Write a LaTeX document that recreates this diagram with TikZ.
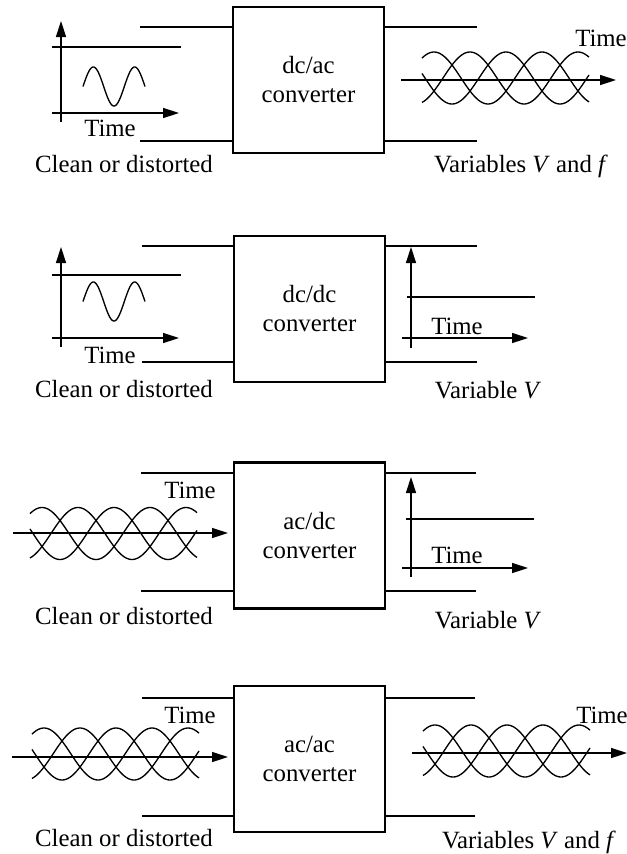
\documentclass[tikz,border=0pt]{standalone}
\usepackage{fontspec}
\setmainfont{Liberation Serif}
\usetikzlibrary{arrows.meta}
\begin{document}
\begin{tikzpicture}[x=0.75pt,y=-0.75pt,
  font=\fontsize{18.6}{21.75}\selectfont,
  conv/.style={draw, line width=1.6pt, minimum width=113.25pt, minimum height=109.5pt, inner sep=0pt, align=center},
  port/.style={line width=1.6pt},
  axis/.style={line width=1.1pt, -{Triangle[length=12pt,width=7.5pt]}},
  level/.style={line width=1pt},
  wave/.style={line width=1pt},
  lbl/.style={anchor=base, inner sep=0pt},
  threephase/.pic={
    \foreach \k in {0,1,2}{
      \draw[wave] plot[domain=0:167,samples=90,smooth] (\x,{-26*cos((\x-12-36*\k)*3.33333)});
    }
  }]
\useasboundingbox (0,0) rectangle (627,854);

% ---------- Row 1: dc/ac ----------
\node[conv] (b1) at (308.5,80) {dc/ac\\converter};
\coordinate (i1a) at (140,27);  \coordinate (i1b) at (140,141);
\coordinate (o1a) at (477,27);  \coordinate (o1b) at (477,141);
\draw[port] (i1a) -- (i1a -| b1.west);
\draw[port] (i1b) -- (i1b -| b1.west);
\draw[port] (o1a -| b1.east) -- (o1a);
\draw[port] (o1b -| b1.east) -- (o1b);
% left graph
\coordinate (v1s) at (61,122); \coordinate (v1e) at (61,21);
\coordinate (h1s) at (52,113); \coordinate (h1e) at (179,113);
\coordinate (l1s) at (52,47);  \coordinate (l1e) at (181,47);
\draw[axis] (v1s) -- (v1e);
\draw[axis] (h1s) -- (h1e);
\draw[level] (l1s) -- (l1e);
\draw[wave] plot[domain=83:145,samples=80,smooth] (\x,{86.5-19.5*sin((\x-83)*8.7097)});
\node[lbl] (t1l) at (110,136.5) {Time};
\node[lbl] (c1) at (124,172) {Clean or distorted};
% right graph
\coordinate (a1s) at (401,80); \coordinate (a1e) at (616,80);
\draw[axis] (a1s) -- (a1e);
\pic at (422,78) {threephase};
\node[lbl] (t1r) at (601,46.5) {Time};
\node[lbl] (r1) at (521,172) {Variables \textit{V} and \textit{f}};

% ---------- Row 2: dc/dc ----------
\node[conv] (b2) at (309.5,309) {dc/dc\\converter};
\coordinate (i2a) at (142,246);  \coordinate (i2b) at (142,362);
\coordinate (o2a) at (477,246);  \coordinate (o2b) at (477,362);
\draw[port] (i2a) -- (i2a -| b2.west);
\draw[port] (i2b) -- (i2b -| b2.west);
\draw[port] (o2a -| b2.east) -- (o2a);
\draw[port] (o2b -| b2.east) -- (o2b);
% left graph
\coordinate (v2s) at (61,347); \coordinate (v2e) at (61,247);
\coordinate (h2s) at (52,338); \coordinate (h2e) at (179,338);
\coordinate (l2s) at (52,275); \coordinate (l2e) at (181,275);
\draw[axis] (v2s) -- (v2e);
\draw[axis] (h2s) -- (h2e);
\draw[level] (l2s) -- (l2e);
\draw[wave] plot[domain=83:145,samples=80,smooth] (\x,{301.5-19.5*sin((\x-83)*8.7097)});
\node[lbl] (t2l) at (110,363.5) {Time};
\node[lbl] (c2) at (124,397) {Clean or distorted};
% right graph
\coordinate (v2rs) at (411,348); \coordinate (v2re) at (411,247);
\coordinate (h2rs) at (402,338); \coordinate (h2re) at (528,338);
\coordinate (l2rs) at (407,297); \coordinate (l2re) at (535,297);
\draw[axis] (v2rs) -- (v2re);
\draw[axis] (h2rs) -- (h2re);
\draw[level] (l2rs) -- (l2re);
\node[lbl] (t2r) at (457,334.5) {Time};
\node[lbl] (r2) at (488,398.5) {Variable \textit{V}};

% ---------- Row 3: ac/dc ----------
\node[conv] (b3) at (309.5,535.5) {ac/dc\\converter};
\coordinate (i3a) at (141,473);  \coordinate (i3b) at (141,591);
\coordinate (o3a) at (476,473);  \coordinate (o3b) at (476,591);
\draw[port] (i3a) -- (i3a -| b3.west);
\draw[port] (i3b) -- (i3b -| b3.west);
\draw[port] (o3a -| b3.east) -- (o3a);
\draw[port] (o3b -| b3.east) -- (o3b);
% left graph
\coordinate (a3s) at (13,533); \coordinate (a3e) at (228,533);
\draw[axis] (a3s) -- (a3e);
\pic at (30,533.5) {threephase};
\node[lbl] (t3l) at (190,498.5) {Time};
\node[lbl] (c3) at (124,624) {Clean or distorted};
% right graph
\coordinate (v3rs) at (411,577); \coordinate (v3re) at (411,477);
\coordinate (h3rs) at (402,568); \coordinate (h3re) at (528,568);
\coordinate (l3rs) at (406,519); \coordinate (l3re) at (534,519);
\draw[axis] (v3rs) -- (v3re);
\draw[axis] (h3rs) -- (h3re);
\draw[level] (l3rs) -- (l3re);
\node[lbl] (t3r) at (457,563.5) {Time};
\node[lbl] (r3) at (488,628.5) {Variable \textit{V}};

% ---------- Row 4: ac/ac ----------
\node[conv] (b4) at (309.5,759) {ac/ac\\converter};
\coordinate (i4a) at (142,698);  \coordinate (i4b) at (142,816);
\coordinate (o4a) at (475,698);  \coordinate (o4b) at (475,816);
\draw[port] (i4a) -- (i4a -| b4.west);
\draw[port] (i4b) -- (i4b -| b4.west);
\draw[port] (o4a -| b4.east) -- (o4a);
\draw[port] (o4b -| b4.east) -- (o4b);
% left graph
\coordinate (a4s) at (12,757); \coordinate (a4e) at (228,757);
\draw[axis] (a4s) -- (a4e);
\pic at (32,754) {threephase};
\node[lbl] (t4l) at (190,723.5) {Time};
\node[lbl] (c4) at (124,846.5) {Clean or distorted};
% right graph
\coordinate (a4rs) at (412,753); \coordinate (a4re) at (627,753);
\draw[axis] (a4rs) -- (a4re);
\pic at (423,751) {threephase};
\node[lbl] (t4r) at (602,723.5) {Time};
\node[lbl] (r4) at (529,848.5) {Variables \textit{V} and \textit{f}};
\end{tikzpicture}
\end{document}
